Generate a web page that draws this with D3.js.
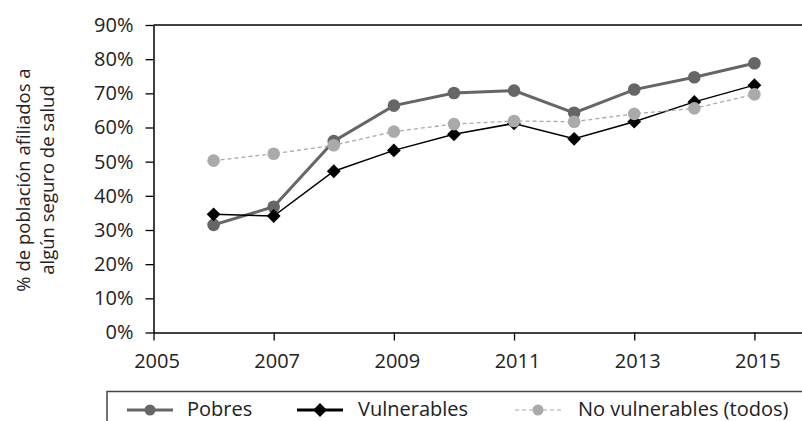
<!DOCTYPE html>
<html>
<head>
<meta charset="utf-8">
<script src="https://cdn.jsdelivr.net/npm/d3@7"></script>
<style>
  html, body { margin: 0; padding: 0; background: #fff; }
  svg { display: block; font-family: "Open Sans", "Noto Sans", sans-serif; }
</style>
</head>
<body>
<svg id="chart" width="802" height="421"></svg>
<script>
// Health insurance coverage by vulnerability group
const years = [2006, 2007, 2008, 2009, 2010, 2011, 2012, 2013, 2014, 2015];
const pobres = [31.5, 36.8, 56.0, 66.4, 70.1, 70.8, 64.3, 71.1, 74.7, 78.8];
const vulnerables = [34.6, 34.1, 47.2, 53.3, 58.0, 61.2, 56.7, 61.7, 67.5, 72.4];
const noVulnerables = [50.3, 52.3, 54.8, 58.8, 61.0, 61.9, 61.7, 64.0, 65.6, 69.7];
const yTicks = [0, 10, 20, 30, 40, 50, 60, 70, 80, 90];
const xTicks = [2005, 2007, 2009, 2011, 2013, 2015];
const seriesNames = ["Pobres", "Vulnerables", "No vulnerables (todos)"];

const svg = d3.select("#chart");
const plotLeft = 153.5, plotTop = 25, plotBottom = 332.5;

const x = d3.scaleLinear().domain([2005, 2016]).range([plotLeft, plotLeft + 661]);
const y = d3.scaleLinear().domain([0, 90]).range([plotBottom, plotTop]);

const textColor = "#222";
const fontStack = "'Open Sans', 'Noto Sans', sans-serif";
const fontSize = 20;

// Frame: top border line
svg.append("line")
  .attr("x1", plotLeft).attr("x2", 802)
  .attr("y1", plotTop).attr("y2", plotTop)
  .attr("stroke", "#000").attr("stroke-width", 1.5);

// Y axis
const yAxis = svg.append("g")
  .attr("transform", `translate(${plotLeft},0)`)
  .call(d3.axisLeft(y).tickValues(yTicks).tickSize(8).tickSizeOuter(0).tickFormat(d => d + "%"));
yAxis.select(".domain").attr("stroke", "#000").attr("stroke-width", 1.5);
yAxis.selectAll(".tick line").attr("stroke", "#000").attr("stroke-width", 1.3);
yAxis.selectAll("text").attr("font-size", fontSize).attr("fill", textColor).attr("x", -20)
  .style("font-family", fontStack);

// X axis
const xAxis = svg.append("g")
  .attr("transform", `translate(0,${plotBottom})`)
  .call(d3.axisBottom(x).tickValues(xTicks).tickSize(8).tickSizeOuter(0).tickFormat(d3.format("d")));
xAxis.select(".domain").attr("stroke", "#000").attr("stroke-width", 1.5);
xAxis.selectAll(".tick line").attr("stroke", "#000").attr("stroke-width", 1.3);
xAxis.selectAll("text").attr("font-size", fontSize).attr("fill", textColor).attr("y", 21).attr("dx", 3)
  .style("font-family", fontStack);

// Y axis title (two lines, rotated)
const yTitle = svg.append("text")
  .attr("transform", "translate(0,180) rotate(-90)")
  .attr("text-anchor", "middle")
  .attr("font-size", 18.5)
  .attr("fill", textColor);
yTitle.append("tspan").attr("x", 0).attr("y", 30).text("% de población afiliados a");
yTitle.append("tspan").attr("x", 0).attr("y", 54).text("algún seguro de salud");

const line = d3.line().x((d, i) => x(years[i])).y(d => y(d));

// Pobres
svg.append("path").datum(pobres).attr("d", line)
  .attr("fill", "none").attr("stroke", "#666").attr("stroke-width", 3);
svg.selectAll(".p-dot").data(pobres).join("circle")
  .attr("class", "p-dot")
  .attr("cx", (d, i) => x(years[i])).attr("cy", d => y(d)).attr("r", 6.3)
  .attr("fill", "#666");

// Vulnerables
svg.append("path").datum(vulnerables).attr("d", line)
  .attr("fill", "none").attr("stroke", "#000").attr("stroke-width", 1.5);
svg.selectAll(".v-dot").data(vulnerables).join("path")
  .attr("class", "v-dot")
  .attr("d", d3.symbol().type(d3.symbolSquare).size(95))
  .attr("transform", (d, i) => `translate(${x(years[i])},${y(d)}) rotate(45)`)
  .attr("fill", "#000");

// No vulnerables
svg.append("path").datum(noVulnerables).attr("d", line)
  .attr("fill", "none").attr("stroke", "#aaa").attr("stroke-width", 1.3)
  .attr("stroke-dasharray", "4,3");
svg.selectAll(".n-dot").data(noVulnerables).join("circle")
  .attr("class", "n-dot")
  .attr("cx", (d, i) => x(years[i])).attr("cy", d => y(d)).attr("r", 6.3)
  .attr("fill", "#aaa");

// Legend box
svg.append("rect")
  .attr("x", 107).attr("y", 391.5).attr("width", 720).attr("height", 60)
  .attr("fill", "none").attr("stroke", "#444").attr("stroke-width", 1.5);

const legendY = 410;
const legendItems = [
  { name: seriesNames[0], x0: 127, tx: 187, stroke: "#666", width: 3, dash: null, marker: "circle", fill: "#666" },
  { name: seriesNames[1], x0: 297, tx: 358, stroke: "#000", width: 3, dash: null, marker: "diamond", fill: "#000" },
  { name: seriesNames[2], x0: 515, tx: 578, stroke: "#aaa", width: 1.2, dash: "4,3", marker: "circle", fill: "#aaa" }
];
legendItems.forEach(it => {
  svg.append("line")
    .attr("x1", it.x0).attr("x2", it.x0 + 46)
    .attr("y1", legendY).attr("y2", legendY)
    .attr("stroke", it.stroke).attr("stroke-width", it.width)
    .attr("stroke-dasharray", it.dash);
  if (it.marker === "circle") {
    svg.append("circle").attr("cx", it.x0 + 23).attr("cy", legendY).attr("r", 5.5).attr("fill", it.fill);
  } else {
    svg.append("path")
      .attr("d", d3.symbol().type(d3.symbolSquare).size(95))
      .attr("transform", `translate(${it.x0 + 23},${legendY}) rotate(45)`)
      .attr("fill", it.fill);
  }
  svg.append("text")
    .attr("x", it.tx).attr("y", 416)
    .attr("font-size", fontSize).attr("fill", textColor)
    .text(it.name);
});
</script>
</body>
</html>
